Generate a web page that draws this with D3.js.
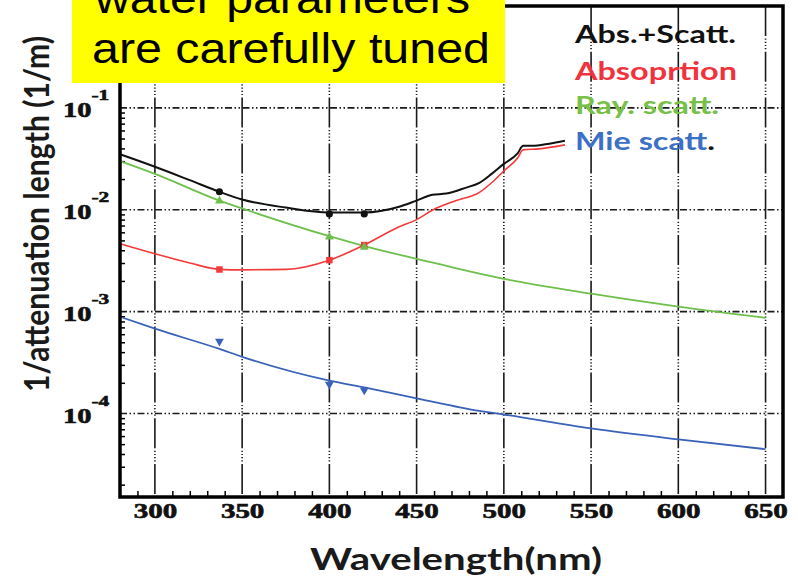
<!DOCTYPE html>
<html>
<head>
<meta charset="utf-8">
<script src="https://cdn.jsdelivr.net/npm/d3@7"></script>
<style>
  body { margin: 0; background: #fff; }
  svg { display: block; }
</style>
</head>
<body>
<svg id="chart"></svg>
<script>
// values: wavelength (nm) and 1/attenuation length (1/m)
const totalWl = [280, 300, 320, 337, 350, 375, 400, 420, 440, 450, 459, 467, 478, 486, 493, 500, 508, 511, 516, 526, 535];
const totalVal = [0.035, 0.0264, 0.0195, 0.015, 0.0126, 0.0105, 0.0094, 0.0094, 0.0107, 0.0123, 0.014, 0.0144, 0.0164, 0.0184, 0.0225, 0.0282, 0.036, 0.0424, 0.0424, 0.0445, 0.0475];

const absWl = [280, 300, 320, 337, 350, 375, 400, 420, 440, 450, 459, 472, 486, 493, 500, 508, 511, 520, 535];
const absVal = [0.00464, 0.0037, 0.003, 0.0026, 0.00257, 0.0026, 0.0032, 0.0045, 0.0068, 0.0080, 0.0099, 0.0122, 0.0148, 0.0184, 0.024, 0.0324, 0.0387, 0.0396, 0.0433];

const rayWl = [280, 300, 337, 350, 400, 420, 450, 486, 500, 550, 600, 650];
const rayVal = [0.030, 0.0225, 0.0123, 0.0103, 0.0055, 0.0044, 0.0033, 0.00236, 0.0021, 0.0015, 0.00112, 0.00087];

const mieWl = [280, 300, 337, 350, 400, 420, 450, 486, 500, 550, 600, 650];
const mieVal = [0.00089, 0.00068, 0.00043, 0.00036, 0.00021, 0.00018, 0.000141, 0.000106, 0.0000977, 0.0000713, 0.0000556, 0.0000446];

// measured points at 337, 400 and 420 nm
const pointWl = [337, 400, 420];
const totalPts = [0.015, 0.0091, 0.0091];
const absPts = [0.00259, 0.0032, 0.0045];
const rayPts = [0.0122, 0.0054, 0.0043];
const miePts = [0.00051, 0.000193, 0.000169];

const xTicks = [300, 350, 400, 450, 500, 550, 600, 650];
const yTicks = [1e-1, 1e-2, 1e-3, 1e-4];
const yExponents = ["-1", "-2", "-3", "-4"];

const legendNames = ["Abs.+Scatt.", "Absoprtion", "Ray. scatt.", "Mie scatt."];
const noteLines = ["water parameters", "are carefully tuned"];

const W = 798, H = 578;
const plot = { left: 120, right: 783, top: 6, bottom: 497 };

const svg = d3.select("#chart").attr("width", W).attr("height", H);

const x = d3.scaleLinear().domain([280, 660]).range([plot.left, plot.right]);
const y = d3.scaleLog().domain([Math.pow(10, -4.82), 1]).range([plot.bottom, plot.top]);

// grid
svg.append("g").selectAll("line")
  .data(xTicks).join("line")
  .attr("x1", d => x(d)).attr("x2", d => x(d))
  .attr("y1", plot.top).attr("y2", plot.bottom)
  .attr("stroke", "#1a1a1a").attr("stroke-width", 1.6)
  .attr("stroke-dasharray", "30,2.5,1.2,2,1.2,2,1.2,2,1.2,2.5");

svg.append("g").selectAll("line")
  .data(yTicks).join("line")
  .attr("x1", plot.left).attr("x2", plot.right)
  .attr("y1", d => y(d)).attr("y2", d => y(d))
  .attr("stroke", "#1a1a1a").attr("stroke-width", 1.6)
  .attr("stroke-dasharray", "7,2.5,1.5,2.5,1.5,2.5");

// minor ticks
const xMinor = d3.range(290, 660, 10).filter(d => d % 50 !== 0);
const xMinorAxis = svg.append("g")
  .attr("transform", `translate(0,${plot.bottom})`)
  .call(d3.axisBottom(x).tickValues(xMinor).tickSize(-6).tickFormat(""));
xMinorAxis.select(".domain").remove();
xMinorAxis.selectAll("line").attr("stroke", "#000").attr("stroke-width", 1.5);

const yMinor = [];
[-5, -4, -3, -2, -1].forEach(e => {
  for (let k = 2; k <= 9; k++) yMinor.push(k * Math.pow(10, e));
});
const yMinorAxis = svg.append("g")
  .attr("transform", `translate(${plot.left},0)`)
  .call(d3.axisLeft(y).tickValues(yMinor.filter(d => d > y.domain()[0] && d < 1)).tickSize(-5).tickFormat(""));
yMinorAxis.select(".domain").remove();
yMinorAxis.selectAll("line").attr("stroke", "#000").attr("stroke-width", 1.5);

// curves
const line = d3.line()
  .x(d => x(d[0]))
  .y(d => y(d[1]))
  .curve(d3.curveMonotoneX);

const series = [
  { wl: totalWl, val: totalVal, pts: totalPts, color: "#111", width: 2, shape: "circle" },
  { wl: absWl, val: absVal, pts: absPts, color: "#f23a3a", width: 1.6, shape: "square" },
  { wl: rayWl, val: rayVal, pts: rayPts, color: "#6fbf4c", width: 1.8, shape: "up" },
  { wl: mieWl, val: mieVal, pts: miePts, color: "#3a62b8", width: 1.8, shape: "down" }
];

series.forEach(s => {
  svg.append("path")
    .datum(d3.zip(s.wl, s.val))
    .attr("fill", "none")
    .attr("stroke", s.color)
    .attr("stroke-width", s.width)
    .attr("d", line);
});

const symbols = {
  circle: d3.symbol().type(d3.symbolCircle).size(40),
  square: d3.symbol().type(d3.symbolSquare).size(42),
  up: d3.symbol().type(d3.symbolTriangle).size(34),
  down: d3.symbol().type(d3.symbolTriangle).size(34)
};

series.forEach(s => {
  svg.append("g").selectAll("path")
    .data(d3.zip(pointWl, s.pts)).join("path")
    .attr("d", symbols[s.shape])
    .attr("transform", d => `translate(${x(d[0])},${y(d[1])})` + (s.shape === "down" ? " rotate(180)" : ""))
    .attr("fill", s.color);
});

// frame
svg.append("rect")
  .attr("x", plot.left).attr("y", plot.top)
  .attr("width", plot.right - plot.left).attr("height", plot.bottom - plot.top)
  .attr("fill", "none").attr("stroke", "#000").attr("stroke-width", 3.5);

// x tick labels
const xAxis = svg.append("g")
  .attr("transform", `translate(0,${plot.bottom})`)
  .call(d3.axisBottom(x).tickValues(xTicks).tickSize(0).tickFormat(d3.format("d")));
xAxis.select(".domain").remove();
xAxis.selectAll("text")
  .attr("y", 21).attr("dy", 0)
  .attr("transform", "scale(1.45,1)")
  .attr("font-family", "'Liberation Serif', 'Times New Roman', serif")
  .attr("font-weight", "bold").attr("font-size", 20).attr("fill", "#111")
  .attr("stroke", "#111").attr("stroke-width", 0.6);

// y tick labels: 10^n
const yAxis = svg.append("g")
  .attr("transform", `translate(${plot.left},0)`)
  .call(d3.axisLeft(y).tickValues(yTicks).tickSize(0).tickFormat(""));
yAxis.select(".domain").remove();
yAxis.selectAll(".tick").each(function (d, i) {
  const t = d3.select(this).append("g")
    .attr("transform", "translate(-57,9) scale(1.42,1)")
    .append("text")
    .attr("text-anchor", "start")
    .attr("font-family", "'Liberation Serif', 'Times New Roman', serif")
    .attr("font-weight", "bold").attr("fill", "#111")
    .attr("stroke", "#111").attr("stroke-width", 0.6);
  t.append("tspan").attr("font-size", 20).text("10");
  t.append("tspan").attr("font-size", 15).attr("dy", -17).text(yExponents[i]);
});

// axis titles
svg.append("text")
  .attr("x", 310).attr("y", 570)
  .attr("textLength", 292).attr("lengthAdjust", "spacingAndGlyphs")
  .attr("font-family", "Lato, 'Open Sans', sans-serif")
  .attr("font-weight", "bold").attr("font-size", 30).attr("fill", "#1a1a1a")
  .text("Wavelength(nm)");

svg.append("text")
  .attr("transform", "translate(49,214) rotate(-90)")
  .attr("text-anchor", "middle")
  .attr("textLength", 356).attr("lengthAdjust", "spacingAndGlyphs")
  .attr("font-family", "Lato, 'Open Sans', sans-serif")
  .attr("font-weight", "bold").attr("font-size", 35).attr("fill", "#1a1a1a")
  .text("1/attenuation length (1/m)");

// legend
const legendColor = ["#111", "#f0323c", "#79c049", "#3b70c4"];
const legendY = [43, 80, 114, 150];
const legendLen = [161, 162, 144, 140];
legendNames.forEach((name, i) => {
  const t = svg.append("text")
    .attr("x", 575).attr("y", legendY[i])
    .attr("textLength", legendLen[i]).attr("lengthAdjust", "spacingAndGlyphs")
    .attr("font-family", "Lato, 'Open Sans', sans-serif")
    .attr("font-weight", "bold").attr("font-size", 24)
    .attr("fill", legendColor[i]);
  if (i === 3) {
    t.append("tspan").text(name.slice(0, -1));
    t.append("tspan").attr("fill", "#111").text(".");
  } else {
    t.text(name);
  }
});

// yellow note box
svg.append("rect")
  .attr("x", 72).attr("y", 0).attr("width", 433).attr("height", 83)
  .attr("fill", "#ffff00");

const noteX = [95, 92];
const noteY = [13, 63];
const noteLen = [375, 398];
noteLines.forEach((s, i) => {
  svg.append("text")
    .attr("x", noteX[i]).attr("y", noteY[i])
    .attr("textLength", noteLen[i]).attr("lengthAdjust", "spacingAndGlyphs")
    .attr("font-family", "'Liberation Sans', Arial, sans-serif")
    .attr("font-size", 42).attr("fill", "#000")
    .text(s);
});
</script>
</body>
</html>
